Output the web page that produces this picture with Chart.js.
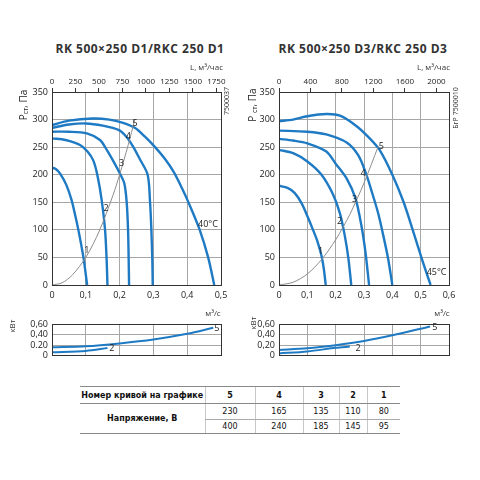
<!DOCTYPE html>
<html><head><meta charset="utf-8">
<script src="https://cdn.jsdelivr.net/npm/chart.js@4.4.1/dist/chart.umd.min.js"></script>
<style>
body{margin:0;background:#fff;width:480px;height:480px;overflow:hidden;position:relative;font-family:'Open Sans',sans-serif;color:#222}
canvas{position:absolute}
.t{position:absolute;white-space:nowrap;line-height:1}
.title{font-weight:700;font-size:12px;letter-spacing:0.5px;transform:translate(-50%,-50%);color:#333}
.rot{transform:translate(-50%,-50%) rotate(-90deg)}
.unit{font-size:8px;color:#333}
.code{font-size:7px;color:#333}
sub{font-size:70%;vertical-align:-1px}
table{position:absolute;left:80px;top:386px;border-collapse:collapse;font-family:'DejaVu Sans',sans-serif;font-size:8px;color:#111;table-layout:fixed}
td{padding:0;text-align:center;border-left:1px solid #c8c8c8;box-sizing:border-box}
td.first{border-left:none;font-weight:bold}
tr.h td{height:17px;border-top:1px solid #888;border-bottom:1px solid #888;font-weight:bold}
tr.r1 td{height:16px}
tr.r1 td.v{border-bottom:1px solid #aaa}
tr.r2 td{height:14px;border-bottom:1px solid #888}
</style></head>
<body>
<canvas id="mainL" width="240" height="240" style="left:0;top:70px"></canvas>
<canvas id="mainR" width="240" height="240" style="left:240px;top:70px"></canvas>
<canvas id="powL" width="240" height="50" style="left:0;top:315px"></canvas>
<canvas id="powR" width="240" height="50" style="left:240px;top:315px"></canvas>

<div class="t title" style="left:140px;top:49px">RK 500×250 D1/RKC 250 D1</div>
<div class="t title" style="left:363px;top:49px">RK 500×250 D3/RKC 250 D3</div>
<div class="t unit" style="right:257px;top:63px">L, м³/час</div>
<div class="t unit" style="right:30px;top:63px">L, м³/час</div>
<div class="t unit" style="left:213px;top:313px;transform:translate(-50%,-50%)">м³/с</div>
<div class="t unit" style="left:442px;top:313px;transform:translate(-50%,-50%)">м³/с</div>
<div class="t rot" style="left:23px;top:105px;font-size:10px">Р<sub>ст</sub>, Па</div>
<div class="t rot" style="left:252px;top:105px;font-size:10px">Р <sub>ст</sub>, Па</div>
<div class="t rot unit" style="left:12px;top:326px">кВт</div>
<div class="t rot unit" style="left:253px;top:323px">кВт</div>
<div class="t rot code" style="left:226px;top:101px">7500037</div>
<div class="t rot code" style="left:455px;top:108px">БгР 7500010</div>

<table>
<colgroup><col style="width:125px"><col style="width:50px"><col style="width:48px"><col style="width:36px"><col style="width:28px"><col style="width:33px"></colgroup>
<tr class="h"><td class="first">Номер кривой на графике</td><td>5</td><td>4</td><td>3</td><td>2</td><td>1</td></tr>
<tr class="r1"><td class="first" rowspan="2" style="border-bottom:1px solid #888">Напряжение, В</td><td class="v">230</td><td class="v">165</td><td class="v">135</td><td class="v">110</td><td class="v">80</td></tr>
<tr class="r2"><td>400</td><td>240</td><td>185</td><td>145</td><td>95</td></tr>
</table>

<script>
// ---------- tick labels ----------
const leftFlowTicks = [0, 0.1, 0.2, 0.3, 0.4, 0.5];
const leftFlowLabels = ['0', '0,1', '0,2', '0,3', '0,4', '0,5'];
const rightFlowTicks = [0, 0.1, 0.2, 0.3, 0.4, 0.5, 0.6];
const rightFlowLabels = ['0', '0,1', '0,2', '0,3', '0,4', '0,5', '0,6'];
const leftHourTicks = [0, 250, 500, 750, 1000, 1250, 1500, 1750];
const rightHourTicks = [0, 400, 800, 1200, 1600, 2000];
const pressureTicks = [0, 50, 100, 150, 200, 250, 300, 350];
const powerTicks = [0, 0.2, 0.4, 0.6];
const leftPowerLabels = ['0', '0.20', '0,40', '0,60'];
const rightPowerLabels = ['0', '0,20', '0,40', '0,60'];
const curveNames = ['1', '2', '3', '4', '5'];

// ---------- D1 (left) fan curves: [flow m³/s, pressure Pa] ----------
const d1Curve1 = [[0,213],[0.012,210],[0.024,202],[0.042,182],[0.058,154],[0.068,128],[0.078,100],[0.093,50],[0.104,0]];
const d1Curve2 = [[0,266],[0.04,263],[0.083,254],[0.105,242],[0.122,226],[0.134,200],[0.147,154],[0.157,100],[0.162,40],[0.164,0]];
const d1Curve3 = [[0,278],[0.05,278],[0.103,275],[0.142,263],[0.162,245],[0.181,225],[0.201,202],[0.214,184],[0.221,150],[0.225,100],[0.227,40],[0.228,0]];
const d1Curve4 = [[0,285],[0.05,291],[0.1,293],[0.15,289],[0.198,281],[0.22,269],[0.24,251],[0.26,228],[0.283,200],[0.29,151],[0.294,100],[0.297,40],[0.298,0]];
const d1Curve5 = [[0,290],[0.05,298],[0.12,302],[0.17,300],[0.21,294],[0.245,285],[0.275,269],[0.305,250],[0.335,228],[0.36,205],[0.385,175],[0.405,148],[0.437,100],[0.462,50],[0.48,0]];
const d1System = [[0,0],[0.03,4],[0.06,18],[0.1,50],[0.14,98],[0.18,162],[0.2,200],[0.225,253],[0.245,300]];
const d1LabelAt = [[0.103,63],[0.16,138],[0.206,221],[0.226,270],[0.246,293]];
const d1Temp = {text: '40°C', at: [0.4615, 109]};

// ---------- D3 (right) fan curves ----------
const d3Curve1 = [[0,180],[0.03,176],[0.055,167],[0.08,148],[0.1,125],[0.12,100],[0.135,80],[0.15,53],[0.158,30],[0.165,0]];
const d3Curve2 = [[0,245],[0.05,239],[0.1,224],[0.15,200],[0.19,165],[0.215,130],[0.232,90],[0.245,48],[0.255,0]];
const d3Curve3 = [[0,265],[0.05,262],[0.1,257],[0.167,242],[0.2,220],[0.24,192],[0.27,157],[0.29,110],[0.305,60],[0.318,0]];
const d3Curve4 = [[0,280],[0.1,278],[0.167,273],[0.24,258],[0.28,235],[0.305,205],[0.33,165],[0.35,130],[0.368,90],[0.385,48],[0.4,0]];
const d3Curve5 = [[0,297],[0.05,300],[0.1,306],[0.167,310],[0.215,307],[0.274,288],[0.32,266],[0.355,245],[0.4,200],[0.44,150],[0.475,95],[0.505,46],[0.535,0]];
const d3System = [[0,0],[0.05,5],[0.1,20],[0.15,46],[0.2,82],[0.25,128],[0.3,185],[0.35,251]];
const d3LabelAt = [[0.147,61],[0.214,116],[0.267,155],[0.297,203],[0.361,252]];
const d3Temp = {text: '45°C', at: [0.556, 23]};

// ---------- power curves: [flow m³/s, kW] ----------
const d1Power5 = [[0,0.16],[0.1,0.18],[0.2,0.235],[0.3,0.31],[0.4,0.42],[0.477,0.535]];
const d1Power2 = [[0,0.064],[0.1,0.09],[0.164,0.144]];
const d3Power5 = [[0,0.11],[0.1,0.14],[0.2,0.2],[0.3,0.28],[0.4,0.39],[0.533,0.56]];
const d3Power2 = [[0,0.042],[0.1,0.08],[0.2,0.15],[0.25,0.175]];
const d1PowerLabelAt = [[0.177,0.135],[0.488,0.52]];
const d3PowerLabelAt = [[0.279,0.132],[0.55,0.537]];
const powerCurveNames = ['2', '5'];

// ---------- styles ----------
const BLUE = '#1f7ac4';
const GRAY = '#8c8c8c';
const GRID = '#a6a6a6';
const AXIS = '#333';
const TXT = '#222';
const tickFont = {family: "'Open Sans', sans-serif", size: 9};

const pts = a => a.map(p => ({x: p[0], y: p[1]}));
const fanSet = a => ({data: pts(a), borderColor: BLUE, borderWidth: 2.4, pointRadius: 0, fill: false, tension: 0.3});
const sysSet = a => ({data: pts(a), borderColor: GRAY, borderWidth: 1, pointRadius: 0, fill: false, tension: 0.3});

const annotate = {
  id: 'annot',
  afterDraw(chart, args, o) {
    const ctx = chart.ctx, xs = chart.scales.x, ys = chart.scales.y, ca = chart.chartArea;
    ctx.save();
    ctx.strokeStyle = AXIS; ctx.lineWidth = 1;
    ctx.strokeRect(Math.round(ca.left) + 0.5, Math.round(ca.top) + 0.5, Math.round(ca.right - ca.left), Math.round(ca.bottom - ca.top));
    ctx.fillStyle = TXT;
    ctx.font = (o.size || 9) + "px 'Open Sans', sans-serif";
    ctx.textAlign = 'center'; ctx.textBaseline = 'middle';
    (o.items || []).forEach(it => {
      ctx.fillText(it.text, xs.getPixelForValue(it.at[0]), ys.getPixelForValue(it.at[1]));
    });
    ctx.restore();
  }
};

function fixedTicks(arr) { return s => { s.ticks = arr.map(v => ({value: v})); }; }

function mainChart(id, o) {
  return new Chart(document.getElementById(id), {
    type: 'line',
    data: {datasets: o.datasets},
    options: {
      responsive: false, animation: false, devicePixelRatio: 1,
      layout: {padding: {left: 0, right: o.padRight, top: 0, bottom: 0}},
      plugins: {legend: {display: false}, tooltip: {enabled: false}, annot: {items: o.items, size: 9}},
      scales: {
        x: {type: 'linear', position: 'bottom', min: 0, max: o.xMax,
          afterBuildTicks: fixedTicks(o.flowTicks), afterFit: s => { s.height = 25; },
          ticks: {callback: (v, i) => o.flowLabels[i], font: tickFont, color: TXT, padding: 5, maxRotation: 0, autoSkip: false},
          grid: {color: GRID, drawTicks: false}, border: {color: AXIS}},
        x2: {type: 'linear', position: 'top', min: 0, max: o.hourMax,
          afterBuildTicks: fixedTicks(o.hourTicks), afterFit: s => { s.height = 22; },
          ticks: {callback: (v, i) => String(o.hourTicks[i]), font: {family: "'Open Sans', sans-serif", size: 8}, color: TXT, padding: 1, maxRotation: 0, autoSkip: false},
          grid: {drawOnChartArea: false, drawTicks: true, tickLength: 4, color: AXIS}, border: {color: AXIS}},
        y: {type: 'linear', min: 0, max: 350,
          afterBuildTicks: fixedTicks(pressureTicks), afterFit: s => { s.width = o.yWidth; },
          ticks: {callback: (v, i) => String(pressureTicks[i]), font: tickFont, color: TXT, padding: 4, autoSkip: false},
          grid: {color: GRID, drawTicks: false}, border: {color: AXIS}}
      }
    },
    plugins: [annotate]
  });
}

function powerChart(id, o) {
  return new Chart(document.getElementById(id), {
    type: 'line',
    data: {datasets: o.datasets},
    options: {
      responsive: false, animation: false, devicePixelRatio: 1,
      layout: {padding: {left: 0, right: o.padRight, top: 8, bottom: 0}},
      plugins: {legend: {display: false}, tooltip: {enabled: false}, annot: {items: o.items, size: 9}},
      scales: {
        x: {type: 'linear', min: 0, max: o.xMax,
          afterBuildTicks: fixedTicks(o.flowTicks), afterFit: s => { s.height = 4; },
          ticks: {display: false},
          grid: {color: GRID, drawTicks: false}, border: {color: AXIS}},
        y: {type: 'linear', min: 0, max: 0.6,
          afterBuildTicks: fixedTicks(powerTicks), afterFit: s => { s.width = o.yWidth; },
          ticks: {callback: (v, i) => o.labels[i], font: tickFont, color: TXT, padding: 4, autoSkip: false},
          grid: {color: GRID, drawTicks: false}, border: {color: AXIS}}
      }
    },
    plugins: [annotate]
  });
}

const labelItems = (at, names) => at.map((p, i) => ({text: names[i], at: p}));

mainChart('mainL', {
  datasets: [sysSet(d1System), fanSet(d1Curve1), fanSet(d1Curve2), fanSet(d1Curve3), fanSet(d1Curve4), fanSet(d1Curve5)],
  xMax: 0.5, hourMax: 1800, flowTicks: leftFlowTicks, flowLabels: leftFlowLabels, hourTicks: leftHourTicks,
  yWidth: 52, padRight: 19,
  items: labelItems(d1LabelAt, curveNames).concat([{text: d1Temp.text, at: d1Temp.at}])
});
mainChart('mainR', {
  datasets: [sysSet(d3System), fanSet(d3Curve1), fanSet(d3Curve2), fanSet(d3Curve3), fanSet(d3Curve4), fanSet(d3Curve5)],
  xMax: 0.6, hourMax: 2160, flowTicks: rightFlowTicks, flowLabels: rightFlowLabels, hourTicks: rightHourTicks,
  yWidth: 39, padRight: 31,
  items: labelItems(d3LabelAt, curveNames).concat([{text: d3Temp.text, at: d3Temp.at}])
});
powerChart('powL', {
  datasets: [fanSet(d1Power5), fanSet(d1Power2)].map(d => Object.assign(d, {borderWidth: 2})),
  xMax: 0.5, flowTicks: leftFlowTicks, labels: leftPowerLabels, yWidth: 52, padRight: 19,
  items: labelItems(d1PowerLabelAt, powerCurveNames)
});
powerChart('powR', {
  datasets: [fanSet(d3Power5), fanSet(d3Power2)].map(d => Object.assign(d, {borderWidth: 2})),
  xMax: 0.6, flowTicks: rightFlowTicks, labels: rightPowerLabels, yWidth: 39, padRight: 31,
  items: labelItems(d3PowerLabelAt, powerCurveNames)
});
</script>
</body></html>
